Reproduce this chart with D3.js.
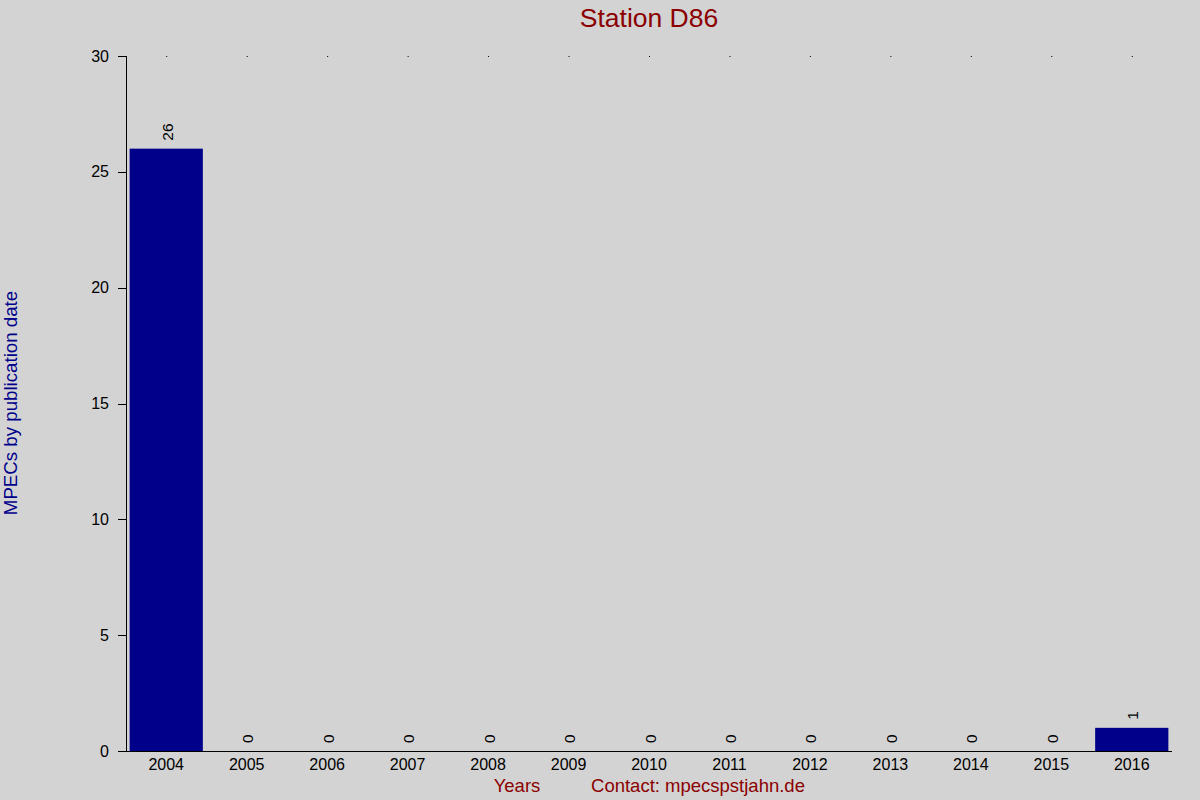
<!DOCTYPE html>
<html>
<head>
<meta charset="utf-8">
<script src="https://cdn.jsdelivr.net/npm/d3@7"></script>
<style>
  body { margin: 0; background: #d3d3d3; }
  text { font-family: "Liberation Sans", Arial, sans-serif; }
</style>
</head>
<body>
<script>
const years = ['2004', '2005', '2006', '2007', '2008', '2009', '2010',
  '2011', '2012', '2013', '2014', '2015', '2016'];
const counts = [26, 0, 0, 0, 0, 0, 0, 0, 0, 0, 0, 0, 1];
const yTicks = [0, 5, 10, 15, 20, 25, 30];

const svg = d3.select('body')
  .append('svg')
  .attr('width', 1200)
  .attr('height', 800)
  .style('background', '#d3d3d3');

const margin = { top: 56, right: 28, bottom: 49, left: 126 };
const width = 1200 - margin.left - margin.right;
const height = 800 - margin.top - margin.bottom;

const g = svg.append('g')
  .attr('transform', `translate(${margin.left} ${margin.top})`);

const x = d3.scaleBand()
  .domain(years)
  .range([0, width])
  .paddingInner(0.09)
  .paddingOuter(0.045);

const y = d3.scaleLinear()
  .domain([0, 30])
  .range([height, 0]);

// bars
g.selectAll('.bar')
  .data(counts)
  .enter()
    .append('rect')
    .attr('class', 'bar')
    .attr('x', (d, i) => x(years[i]))
    .attr('y', d => y(d))
    .attr('width', x.bandwidth())
    .attr('height', d => height - y(d))
    .attr('fill', '#00008b');

// value labels, rotated
g.selectAll('.val')
  .data(counts)
  .enter()
    .append('text')
    .attr('class', 'val')
    .attr('transform', (d, i) =>
      `translate(${x(years[i]) + x.bandwidth() / 2 + 1} ${y(d) - 8}) rotate(-90)`)
    .attr('text-anchor', 'start')
    .attr('dominant-baseline', 'central')
    .attr('font-size', 15.5)
    .attr('fill', '#000')
    .text(d => d);

// top dots at category centres
g.selectAll('.dot')
  .data(years)
  .enter()
    .append('rect')
    .attr('class', 'dot')
    .attr('x', d => x(d) + x.bandwidth() / 2)
    .attr('y', 0)
    .attr('width', 1)
    .attr('height', 1)
    .attr('fill', '#000');

// y axis
g.append('line')
  .attr('x1', 0.5).attr('x2', 0.5)
  .attr('y1', 0).attr('y2', height)
  .attr('stroke', '#000');

g.selectAll('.ytick')
  .data(yTicks)
  .enter()
    .append('line')
    .attr('class', 'ytick')
    .attr('x1', -8).attr('x2', 0)
    .attr('y1', d => Math.round(y(d)) + 0.5)
    .attr('y2', d => Math.round(y(d)) + 0.5)
    .attr('stroke', '#000');

g.selectAll('.ylab')
  .data(yTicks)
  .enter()
    .append('text')
    .attr('class', 'ylab')
    .attr('x', -17)
    .attr('y', d => y(d))
    .attr('text-anchor', 'end')
    .attr('dominant-baseline', 'central')
    .attr('font-size', 16)
    .text(d => d);

// baseline
g.append('line')
  .attr('x1', -8).attr('x2', width)
  .attr('y1', height + 0.5).attr('y2', height + 0.5)
  .attr('stroke', '#000');

// x labels
g.selectAll('.xlab')
  .data(years)
  .enter()
    .append('text')
    .attr('class', 'xlab')
    .attr('x', d => x(d) + x.bandwidth() / 2)
    .attr('y', height + 18.5)
    .attr('text-anchor', 'middle')
    .attr('font-size', 16)
    .text(d => d);

// titles
svg.append('text')
  .attr('x', 649)
  .attr('y', 27)
  .attr('text-anchor', 'middle')
  .attr('font-size', 26.5)
  .attr('fill', '#8b0000')
  .text('Station D86');

svg.append('text')
  .attr('transform', 'translate(17 403) rotate(-90)')
  .attr('text-anchor', 'middle')
  .attr('font-size', 18.7)
  .attr('fill', '#00008b')
  .text('MPECs by publication date');

svg.append('text')
  .attr('x', 517)
  .attr('y', 792)
  .attr('text-anchor', 'middle')
  .attr('font-size', 18.5)
  .attr('fill', '#8b0000')
  .text('Years');

svg.append('text')
  .attr('x', 698)
  .attr('y', 792)
  .attr('text-anchor', 'middle')
  .attr('font-size', 18.5)
  .attr('fill', '#8b0000')
  .text('Contact: mpecspstjahn.de');
</script>
</body>
</html>
